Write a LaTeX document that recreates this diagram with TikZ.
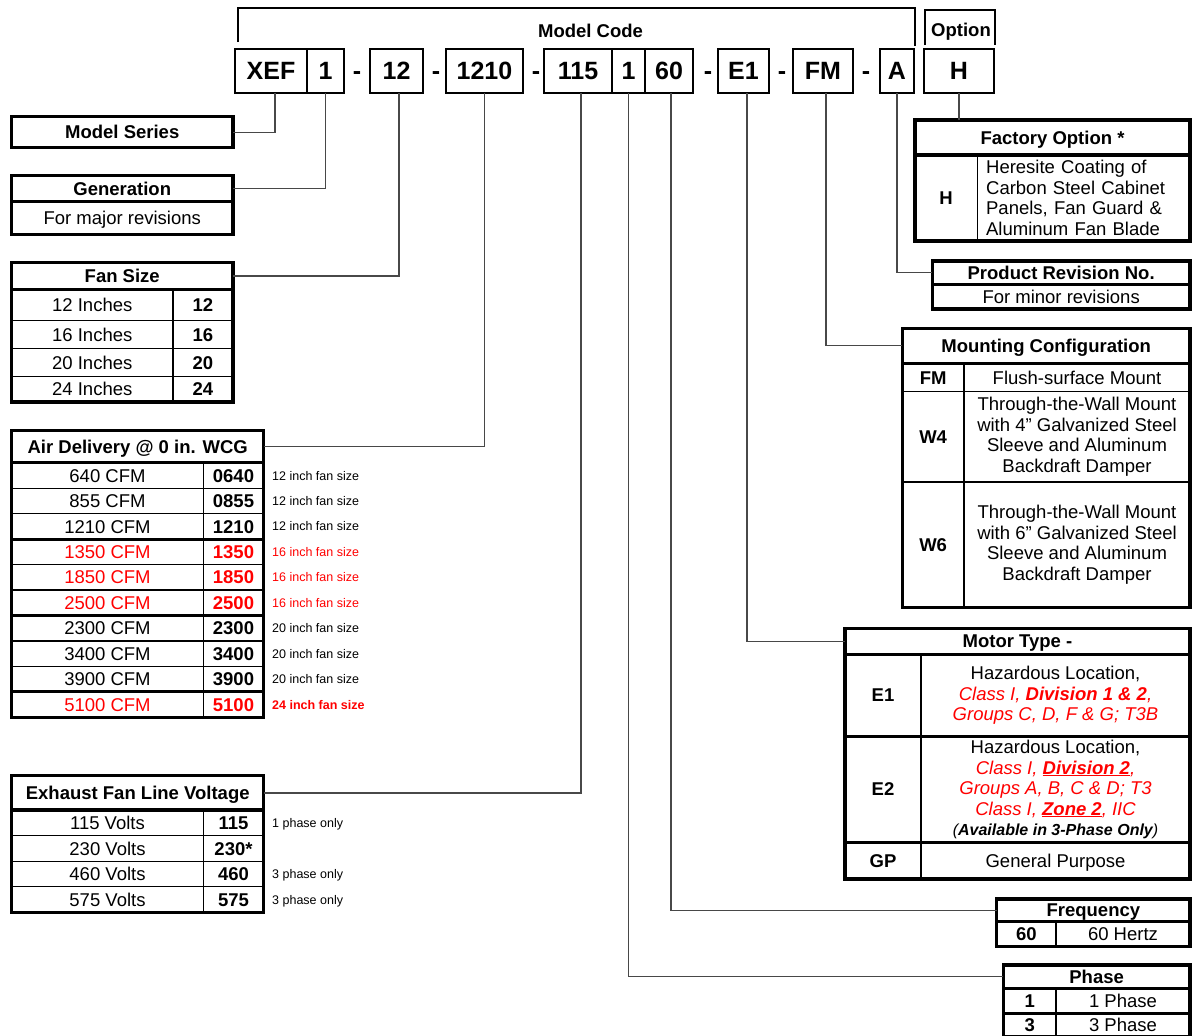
\documentclass[tikz,border=0pt]{standalone}
\usepackage{fontspec}
\setmainfont{Liberation Sans}
\definecolor{lnkgray}{RGB}{72,72,72}
\begin{document}
\begin{tikzpicture}[x=1pt, y=-1pt]
    \tikzstyle{lbl} = [inner sep=0pt, outer sep=0pt, font=\fontsize{18.5}{20.5}\selectfont, text height=13.2pt, text depth=0pt]
    \tikzstyle{bf} = [font=\fontsize{18.5}{20.5}\selectfont\bfseries]
    \tikzstyle{hdr} = [lbl, bf, draw, line width=3.2pt]
    \tikzstyle{tcell} = [lbl, draw, line width=1.2pt]
    \tikzstyle{kcell} = [tcell, bf]
    \tikzstyle{para} = [draw, line width=1.2pt, inner sep=0pt, outer sep=0pt, align=center, font=\fontsize{18.5}{20.5}\selectfont]
    \tikzstyle{note} = [anchor=west, inner sep=0pt, font=\fontsize{12.5}{14}\selectfont, text height=9pt, text depth=0pt]
    \tikzstyle{codebox} = [draw, line width=2.6pt, inner sep=0pt, outer sep=0pt, minimum height=44pt, font=\fontsize{25}{28}\selectfont\bfseries, text height=17.9pt, text depth=0pt]
    \tikzstyle{hyph} = [inner sep=0pt, font=\fontsize{25}{28}\selectfont\bfseries, text height=17.9pt, text depth=0pt]
    \tikzstyle{frm} = [draw, line width=3.2pt]
    \tikzstyle{brk} = [draw, line width=2pt]
    \tikzstyle{lnk} = [draw, lnkgray, line width=1.3pt]

    \useasboundingbox (0, 0) rectangle (1192, 1036);

    % model code row
    \node[codebox, minimum width=72pt] (xef) at (271, 71) {XEF};
    \node[codebox, minimum width=37pt] (gen) at (325.5, 71) {1};
    \node[hyph] (h1) at (357, 71) {-};
    \node[codebox, minimum width=53pt] (size) at (396.5, 71) {12};
    \node[hyph] (h2) at (436, 71) {-};
    \node[codebox, minimum width=77pt] (cfm) at (484.5, 71) {1210};
    \node[hyph] (h3) at (536, 71) {-};
    \node[codebox, minimum width=68pt] (volt) at (578, 71) {115};
    \node[codebox, minimum width=33pt] (ph) at (628.5, 71) {1};
    \node[codebox, minimum width=48pt] (hz) at (669, 71) {60};
    \node[hyph] (h4) at (708, 71) {-};
    \node[codebox, minimum width=51pt] (motor) at (743.5, 71) {E1};
    \node[hyph] (h5) at (782, 71) {-};
    \node[codebox, minimum width=60pt] (mount) at (823, 71) {FM};
    \node[hyph] (h6) at (866, 71) {-};
    \node[codebox, minimum width=34pt] (rev) at (897, 71) {A};
    \node[codebox, minimum width=70pt] (opt) at (959, 71) {H};

    \node[lbl, bf] (model code) at (590.5, 31) {Model Code};
    \node[lbl, bf] (option) at (961, 29.5) {Option};
    \path[brk] ([xshift=3pt, yshift=7pt]xef.north west) |- ([xshift=1pt, yshift=41pt]rev.north east) -- ([xshift=1pt, yshift=3pt]rev.north east);
    \path[brk] ([xshift=1pt, yshift=4pt]opt.north west) |- ([xshift=1pt, yshift=39pt]opt.north east) -- ([xshift=1pt, yshift=4pt]opt.north east);

    % left column
    \node[hdr, minimum width=221.5pt, minimum height=31pt] (model series) at (122.25, 132.2) {Model Series};

    \node[hdr, minimum width=221.5pt, minimum height=26pt] (generation) at (122.25, 188.5) {Generation};
    \node[tcell, minimum width=221.5pt, minimum height=32.8pt] (major) at (122.25, 217.9) {For major revisions};
    \path[frm] (generation.south west) rectangle (major.south east);

    \node[hdr, minimum width=221.5pt, minimum height=27pt] (fan size) at (122.25, 276) {Fan Size};
    \node[tcell, minimum width=161.5pt, minimum height=31pt] (fan 12) at (92.25, 305) {12 Inches};
    \node[kcell, minimum width=60pt, minimum height=31pt] (fan 12 code) at (203, 305) {12};
    \node[tcell, minimum width=161.5pt, minimum height=28pt] (fan 16) at (92.25, 334.5) {16 Inches};
    \node[kcell, minimum width=60pt, minimum height=28pt] (fan 16 code) at (203, 334.5) {16};
    \node[tcell, minimum width=161.5pt, minimum height=28pt] (fan 20) at (92.25, 362.5) {20 Inches};
    \node[kcell, minimum width=60pt, minimum height=28pt] (fan 20 code) at (203, 362.5) {20};
    \node[tcell, minimum width=161.5pt, minimum height=25.5pt] (fan 24) at (92.25, 389.25) {24 Inches};
    \node[kcell, minimum width=60pt, minimum height=25.5pt] (fan 24 code) at (203, 389.25) {24};
    \path[frm] (fan size.south west) rectangle (fan 24 code.south east);

    \node[hdr, minimum width=252pt, minimum height=32.5pt] (air delivery) at (137.7, 446.55) {Air Delivery @ 0 in. WCG};
    \node[tcell, minimum width=191.6pt, minimum height=25.45pt] (cfm 0640) at (107.5, 475.5) {640 CFM};
    \node[kcell, minimum width=60.4pt, minimum height=25.45pt] (cfm 0640 code) at (233.5, 475.5) {0640};
    \node[note] (cfm 0640 note) at (272, 475.5) {12 inch fan size};
    \node[tcell, minimum width=191.6pt, minimum height=25.45pt] (cfm 0855) at (107.5, 500.95) {855 CFM};
    \node[kcell, minimum width=60.4pt, minimum height=25.45pt] (cfm 0855 code) at (233.5, 500.95) {0855};
    \node[note] (cfm 0855 note) at (272, 500.95) {12 inch fan size};
    \node[tcell, minimum width=191.6pt, minimum height=25.45pt] (cfm 1210) at (107.5, 526.4) {1210 CFM};
    \node[kcell, minimum width=60.4pt, minimum height=25.45pt] (cfm 1210 code) at (233.5, 526.4) {1210};
    \node[note] (cfm 1210 note) at (272, 526.4) {12 inch fan size};
    \node[tcell, minimum width=191.6pt, minimum height=25.45pt, text=red] (cfm 1350) at (107.5, 551.85) {1350 CFM};
    \node[kcell, minimum width=60.4pt, minimum height=25.45pt, text=red] (cfm 1350 code) at (233.5, 551.85) {1350};
    \node[note, text=red] (cfm 1350 note) at (272, 551.85) {16 inch fan size};
    \node[tcell, minimum width=191.6pt, minimum height=25.45pt, text=red] (cfm 1850) at (107.5, 577.3) {1850 CFM};
    \node[kcell, minimum width=60.4pt, minimum height=25.45pt, text=red] (cfm 1850 code) at (233.5, 577.3) {1850};
    \node[note, text=red] (cfm 1850 note) at (272, 577.3) {16 inch fan size};
    \node[tcell, minimum width=191.6pt, minimum height=25.45pt, text=red] (cfm 2500) at (107.5, 602.75) {2500 CFM};
    \node[kcell, minimum width=60.4pt, minimum height=25.45pt, text=red] (cfm 2500 code) at (233.5, 602.75) {2500};
    \node[note, text=red] (cfm 2500 note) at (272, 602.75) {16 inch fan size};
    \node[tcell, minimum width=191.6pt, minimum height=25.45pt] (cfm 2300) at (107.5, 628.2) {2300 CFM};
    \node[kcell, minimum width=60.4pt, minimum height=25.45pt] (cfm 2300 code) at (233.5, 628.2) {2300};
    \node[note] (cfm 2300 note) at (272, 628.2) {20 inch fan size};
    \node[tcell, minimum width=191.6pt, minimum height=25.45pt] (cfm 3400) at (107.5, 653.65) {3400 CFM};
    \node[kcell, minimum width=60.4pt, minimum height=25.45pt] (cfm 3400 code) at (233.5, 653.65) {3400};
    \node[note] (cfm 3400 note) at (272, 653.65) {20 inch fan size};
    \node[tcell, minimum width=191.6pt, minimum height=25.45pt] (cfm 3900) at (107.5, 679.1) {3900 CFM};
    \node[kcell, minimum width=60.4pt, minimum height=25.45pt] (cfm 3900 code) at (233.5, 679.1) {3900};
    \node[note] (cfm 3900 note) at (272, 679.1) {20 inch fan size};
    \node[tcell, minimum width=191.6pt, minimum height=25.45pt, text=red] (cfm 5100) at (107.5, 704.55) {5100 CFM};
    \node[kcell, minimum width=60.4pt, minimum height=25.45pt, text=red] (cfm 5100 code) at (233.5, 704.55) {5100};
    \node[note, text=red, font=\fontsize{12.5}{14}\selectfont\bfseries] (cfm 5100 note) at (272, 704.55) {24 inch fan size};
    \path[frm] (air delivery.south west) rectangle (cfm 5100 code.south east);
    \path[frm] (cfm 1350.north west) -- (cfm 1350 code.north east);
    \path[frm] (cfm 2300.north west) -- (cfm 2300 code.north east);
    \path[frm] (cfm 5100.north west) -- (cfm 5100 code.north east);

    \node[hdr, minimum width=252pt, minimum height=34.3pt] (line voltage) at (137.7, 792.85) {Exhaust Fan Line Voltage};
    \node[tcell, minimum width=191.6pt, minimum height=25.6pt] (v115) at (107.5, 822.8) {115 Volts};
    \node[kcell, minimum width=60.4pt, minimum height=25.6pt] (v115 code) at (233.5, 822.8) {115};
    \node[note] (v115 note) at (272, 822.8) {1 phase only};
    \node[tcell, minimum width=191.6pt, minimum height=25.6pt] (v230) at (107.5, 848.4) {230 Volts};
    \node[kcell, minimum width=60.4pt, minimum height=25.6pt] (v230 code) at (233.5, 848.4) {230*};
    \node[tcell, minimum width=191.6pt, minimum height=25.6pt] (v460) at (107.5, 874) {460 Volts};
    \node[kcell, minimum width=60.4pt, minimum height=25.6pt] (v460 code) at (233.5, 874) {460};
    \node[note] (v460 note) at (272, 874) {3 phase only};
    \node[tcell, minimum width=191.6pt, minimum height=25.6pt] (v575) at (107.5, 899.6) {575 Volts};
    \node[kcell, minimum width=60.4pt, minimum height=25.6pt] (v575 code) at (233.5, 899.6) {575};
    \node[note] (v575 note) at (272, 899.6) {3 phase only};
    \path[frm] (line voltage.south west) rectangle (v575 code.south east);

    % right column
    \node[hdr, minimum width=275pt, minimum height=35pt] (factory option) at (1052.5, 137.5) {Factory Option *};
    \node[kcell, minimum width=62.3pt, minimum height=86pt] (opt h) at (946.15, 198) {H};
    \node[para, align=left, text width=195pt, inner xsep=8.85pt, minimum height=86pt] (heresite) at (1083.65, 198) {Heresite Coating of\\Carbon Steel Cabinet\\Panels, Fan Guard \&\\Aluminum Fan Blade};
    \path[frm] (factory option.south west) rectangle (heresite.south east);

    \node[hdr, minimum width=257.7pt, minimum height=23.3pt] (revision) at (1061.15, 272.65) {Product Revision No.};
    \node[tcell, minimum width=257.7pt, minimum height=24.7pt] (minor) at (1061.15, 296.65) {For minor revisions};
    \path[frm] (revision.south west) rectangle (minor.south east);

    \node[hdr, minimum width=287.7pt, minimum height=35pt] (mounting) at (1046.15, 345.8) {Mounting Configuration};
    \node[kcell, minimum width=61.7pt, minimum height=28.4pt] (fm) at (933.15, 377.5) {FM};
    \node[tcell, minimum width=226pt, minimum height=28.4pt] (fm text) at (1077, 377.5) {Flush-surface Mount};
    \node[para, minimum width=61.7pt, minimum height=90.5pt, font=\fontsize{18.5}{20.5}\selectfont\bfseries] (w4) at (933.15, 436.95) {W4};
    \node[para, minimum width=226pt, minimum height=90.5pt] (w4 text) at (1077, 436.95) {Through-the-Wall Mount\\with 4” Galvanized Steel\\Sleeve and Aluminum\\Backdraft Damper};
    \node[para, minimum width=61.7pt, minimum height=125.5pt, font=\fontsize{18.5}{20.5}\selectfont\bfseries] (w6) at (933.15, 544.95) {W6};
    \node[para, minimum width=226pt, minimum height=125.5pt] (w6 text) at (1077, 544.95) {Through-the-Wall Mount\\with 6” Galvanized Steel\\Sleeve and Aluminum\\Backdraft Damper};
    \path[frm] (mounting.south west) rectangle (w6 text.south east);
    \path[draw, line width=2pt] (w6.north west) -- (w6 text.north east);

    \node[hdr, minimum width=345pt, minimum height=26pt] (motor type) at (1017.5, 641.3) {Motor Type -};
    \node[para, minimum width=76pt, minimum height=82.4pt, font=\fontsize{18.5}{20.5}\selectfont\bfseries] (e1) at (883, 695.5) {E1};
    \node[para, minimum width=269pt, minimum height=82.4pt] (e1 text) at (1055.5, 695.5) {Hazardous Location,\\\textcolor{red}{\itshape Class I, \textbf{Division 1 \& 2},}\\\textcolor{red}{\itshape Groups C, D, F \& G; T3B}};
    \node[para, minimum width=76pt, minimum height=105.6pt, font=\fontsize{18.5}{20.5}\selectfont\bfseries] (e2) at (883, 789.5) {E2};
    \node[para, minimum width=269pt, minimum height=105.6pt] (e2 text) at (1055.5, 789.5) {Hazardous Location,\\\textcolor{red}{\itshape Class I, \underline{\textbf{Division 2}},}\\\textcolor{red}{\itshape Groups A, B, C \& D; T3}\\\textcolor{red}{\itshape Class I, \underline{\textbf{Zone 2}}, IIC}\\{\fontsize{16}{18}\selectfont\itshape(\textbf{Available in 3-Phase Only})}};
    \node[kcell, minimum width=76pt, minimum height=36.7pt] (gp) at (883, 860.65) {GP};
    \node[tcell, minimum width=269pt, minimum height=36.7pt] (gp text) at (1055.5, 860.65) {General Purpose};
    \path[frm] (motor type.south west) rectangle (gp text.south east);
    \path[frm] (e2.north west) -- (e2 text.north east);
    \path[frm] (gp.north west) -- (gp text.north east);

    \node[hdr, minimum width=193.3pt, minimum height=22.7pt] (frequency) at (1093.35, 910.35) {Frequency};
    \node[kcell, minimum width=59.3pt, minimum height=25pt] (hz 60) at (1026.35, 934.2) {60};
    \node[tcell, minimum width=134pt, minimum height=25pt] (hz 60 text) at (1123, 934.2) {60 Hertz};
    \path[frm] (frequency.south west) rectangle (hz 60 text.south east);

    \node[hdr, minimum width=186.7pt, minimum height=23.3pt] (phase) at (1096.65, 976.65) {Phase};
    \node[kcell, minimum width=52.7pt, minimum height=25pt] (ph 1) at (1029.65, 1000.8) {1};
    \node[tcell, minimum width=134pt, minimum height=25pt] (ph 1 text) at (1123, 1000.8) {1 Phase};
    \node[kcell, minimum width=52.7pt, minimum height=23.7pt] (ph 3) at (1029.65, 1025.15) {3};
    \node[tcell, minimum width=134pt, minimum height=23.7pt] (ph 3 text) at (1123, 1025.15) {3 Phase};
    \path[frm] (phase.south west) rectangle (ph 3 text.south east);
    \path[frm] (ph 3.north west) -- (ph 3 text.north east);

    % connectors
    \path[lnk] ([xshift=4pt]xef.south) |- (model series.east);
    \path[lnk] (gen.south) |- (generation.east);
    \path[lnk] ([xshift=2.5pt]size.south) |- (fan size.east);
    \path[lnk] (cfm.south) |- (air delivery.east);
    \path[lnk] ([xshift=3pt]volt.south) |- (line voltage.east);
    \path[lnk] (ph.south) |- (phase.west);
    \path[lnk] ([xshift=2pt]hz.south) |- (frequency.west);
    \path[lnk] ([xshift=3.5pt]motor.south) |- (motor type.west);
    \path[lnk] ([xshift=3pt]mount.south) |- (mounting.west);
    \path[lnk] (rev.south) |- (revision.west);
    \path[lnk] (opt.south) -- (opt.south |- factory option.north);
\end{tikzpicture}
\end{document}
